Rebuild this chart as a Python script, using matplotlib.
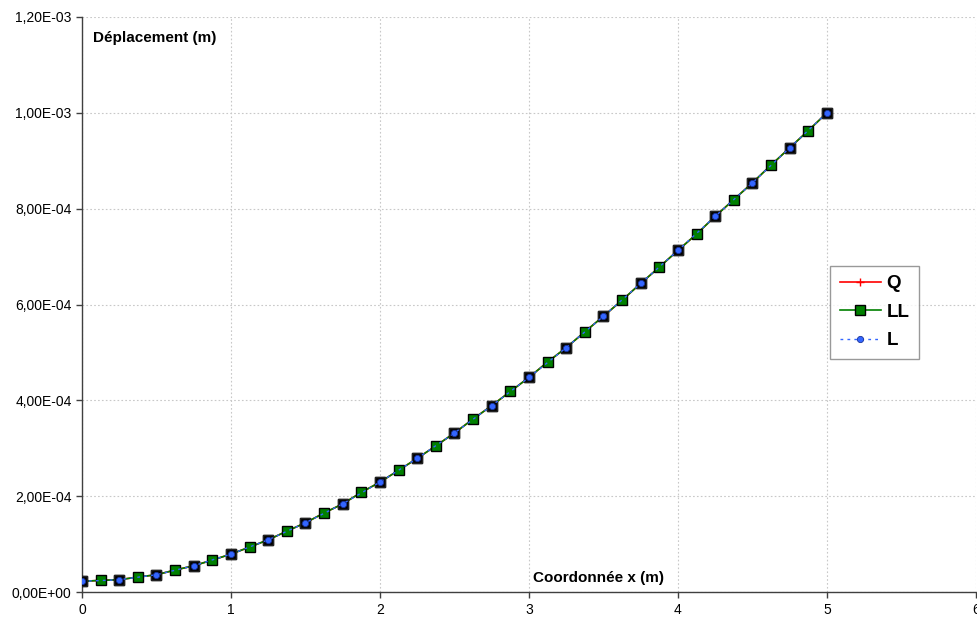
import matplotlib
matplotlib.use("Agg")
import matplotlib.pyplot as plt
from matplotlib.ticker import FuncFormatter

plt.rcParams['font.family'] = ['Liberation Sans', 'DejaVu Sans']

# x coordinates (m) and displacement (m)
x_fine = [0.0, 0.125, 0.25, 0.375, 0.5, 0.625, 0.75, 0.875, 1.0, 1.125,
          1.25, 1.375, 1.5, 1.625, 1.75, 1.875, 2.0, 2.125, 2.25, 2.375,
          2.5, 2.625, 2.75, 2.875, 3.0, 3.125, 3.25, 3.375, 3.5, 3.625,
          3.75, 3.875, 4.0, 4.125, 4.25, 4.375, 4.5, 4.625, 4.75, 4.875, 5.0]
y_fine = [2.23e-5, 2.44e-5, 2.57e-5, 3.13e-5, 3.61e-5, 4.59e-5, 5.49e-5, 6.67e-5,
          7.92e-5, 9.38e-5, 1.09e-4, 1.27e-4, 1.445e-4, 1.65e-4, 1.84e-4, 2.08e-4,
          2.294e-4, 2.54e-4, 2.79e-4, 3.05e-4, 3.32e-4, 3.61e-4, 3.89e-4, 4.185e-4,
          4.478e-4, 4.80e-4, 5.10e-4, 5.43e-4, 5.756e-4, 6.09e-4, 6.44e-4, 6.78e-4,
          7.13e-4, 7.47e-4, 7.84e-4, 8.19e-4, 8.54e-4, 8.91e-4, 9.27e-4, 9.63e-4, 1.0e-3]

x_q, y_q = x_fine, y_fine
x_ll, y_ll = x_fine, y_fine
x_l = x_fine[::2]
y_l = y_fine[::2]

fig = plt.figure(figsize=(9.77, 6.18), dpi=100)
ax = fig.add_axes([0.0839, 0.042, 0.915, 0.9305])

ax.plot(x_q, y_q, color='red', linewidth=1.2, marker='+', markersize=6,
        markeredgewidth=1.0, label='Q', zorder=3)
ax.plot(x_ll, y_ll, color='green', linewidth=1.2, marker='s', markersize=7.5,
        markerfacecolor='#008000', markeredgecolor='black', markeredgewidth=1.0,
        label='LL', zorder=4)
# dark square behind the L markers
ax.plot(x_l, y_l, linestyle='none', marker='s', markersize=7.5,
        markerfacecolor='black', markeredgecolor='#222222', zorder=5)
ax.plot(x_l, y_l, color='#3366ff', linewidth=1.0, linestyle=(0, (2, 3)),
        marker='o', markersize=4.5, markerfacecolor='#3366ff',
        markeredgecolor='#1a3399', markeredgewidth=0.6, label='L', zorder=6)

ax.set_xlim(0, 6)
ax.set_ylim(0, 1.2e-3)
ax.set_xticks(range(7))
ax.set_yticks([0, 2e-4, 4e-4, 6e-4, 8e-4, 1.0e-3, 1.2e-3])


def sci_fr(v, pos):
    s = '%.2E' % v
    return s.replace('.', ',')


ax.yaxis.set_major_formatter(FuncFormatter(sci_fr))
ax.grid(True, color='#c8c8c8', linestyle=(0, (1.5, 2)), linewidth=0.8)
ax.set_axisbelow(True)

for side in ['top', 'right']:
    ax.spines[side].set_visible(False)
for side in ['left', 'bottom']:
    ax.spines[side].set_color('#404040')
    ax.spines[side].set_linewidth(1.0)

ax.tick_params(axis='both', labelsize=10, colors='#404040', labelcolor='black',
               length=4, width=1.0, direction='out')
ax.tick_params(axis='x', pad=4)

ax.text(0.012, 0.975, 'Déplacement (m)', transform=ax.transAxes,
        fontsize=11, fontweight='bold', va='top', ha='left')
ax.text(0.505, 0.012, 'Coordonnée x (m)', transform=ax.transAxes,
        fontsize=11, fontweight='bold', va='bottom', ha='left')

leg = ax.legend(loc='upper left', bbox_to_anchor=(0.837, 0.567),
                prop={'weight': 'bold', 'size': 13.5}, frameon=True,
                fancybox=False, edgecolor='#808080', handlelength=2.2,
                handletextpad=0.3, borderpad=0.5, labelspacing=0.6,
                borderaxespad=0)
leg.get_frame().set_linewidth(1.0)

fig.savefig('out.png', dpi=100)
